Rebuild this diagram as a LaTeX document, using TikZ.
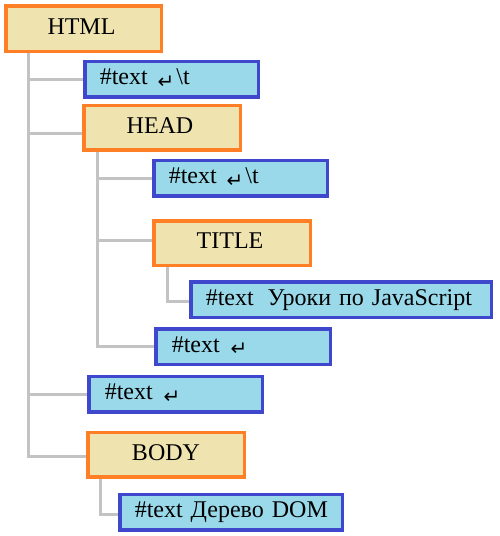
\documentclass[tikz,border=0pt]{standalone}
\usepackage{fontspec}
\setmainfont{Liberation Serif}
\newfontfamily\arrowfont{DejaVu Sans}
\newcommand{\retarrow}{\raisebox{-3.5pt}{\arrowfont\fontsize{20}{20}\selectfont ↵}}
\definecolor{elemborder}{HTML}{FF7F27}
\definecolor{elemfill}{HTML}{EFE4B0}
\definecolor{txtborder}{HTML}{3F48CC}
\definecolor{txtfill}{HTML}{99D9EA}
\definecolor{connline}{HTML}{C3C3C3}
\begin{document}
\begin{tikzpicture}[x=1pt,y=-1pt,
  every node/.style={font=\fontsize{24}{28}\selectfont, text height=15.9pt,
    text depth=4pt, line width=3.5pt, inner sep=0pt},
  elembox/.style={draw=elemborder, fill=elemfill, minimum width=156.5pt,
    minimum height=44.5pt},
  textbox/.style={draw=txtborder, fill=txtfill, minimum height=35.5pt,
    text width=#1, align=left},
  conn/.style={draw=connline, line width=3pt}]
\useasboundingbox (0,0) rectangle (499,536);

% element nodes
\node[elembox, minimum width=155.5pt, minimum height=45.5pt] (html) at (83.5,28.5) {HTML\hspace*{4pt}};
\node[elembox] (head) at (162,127.5) {HEAD\hspace*{4pt}};
\node[elembox] (title) at (232,243) {TITLE\hspace*{4pt}};
\node[elembox] (body) at (166,454.5) {BODY};

% text nodes
\node[textbox=173.5pt] (t1) at (171.5,79)
  {\hspace*{15pt}\#text\hspace{10pt}\retarrow\hspace{2pt}\textbackslash t};
\node[textbox=173.5pt] (t2) at (240.5,178)
  {\hspace*{15pt}\#text\hspace{10pt}\retarrow\hspace{2pt}\textbackslash t};
\node[textbox=300.5pt] (t3) at (341,299.5)
  {\hspace*{15pt}\#text\hspace{14pt}Уроки по JavaScript};
\node[textbox=174.5pt] (t4) at (243,346.5)
  {\hspace*{16pt}\#text\hspace{11pt}\retarrow};
\node[textbox=173.5pt] (t5) at (175.5,394)
  {\hspace*{16pt}\#text\hspace{11pt}\retarrow};
\node[textbox=222.5pt] (t6) at (231,512)
  {\hspace*{15pt}\#text\hspace{8pt}Дерево DOM};

% tree connectors
\draw[conn] ([xshift=24pt]html.south west) |- (t1.west)
  ([xshift=24pt]html.south west) |- ([yshift=-5.5pt]head.west)
  ([xshift=24pt]html.south west) |- (t5.west)
  ([xshift=24pt]html.south west) |- ([yshift=-1.5pt]body.west);
\draw[conn] ([xshift=15pt]head.south west) |- (t2.west)
  ([xshift=15pt]head.south west) |- ([yshift=3pt]title.west)
  ([xshift=15pt]head.south west) |- (t4.west);
\draw[conn] ([xshift=15pt]title.south west) |- ([yshift=-1.5pt]t3.west);
\draw[conn] ([xshift=14pt]body.south west) |- ([yshift=-2pt]t6.west);
\end{tikzpicture}
\end{document}
